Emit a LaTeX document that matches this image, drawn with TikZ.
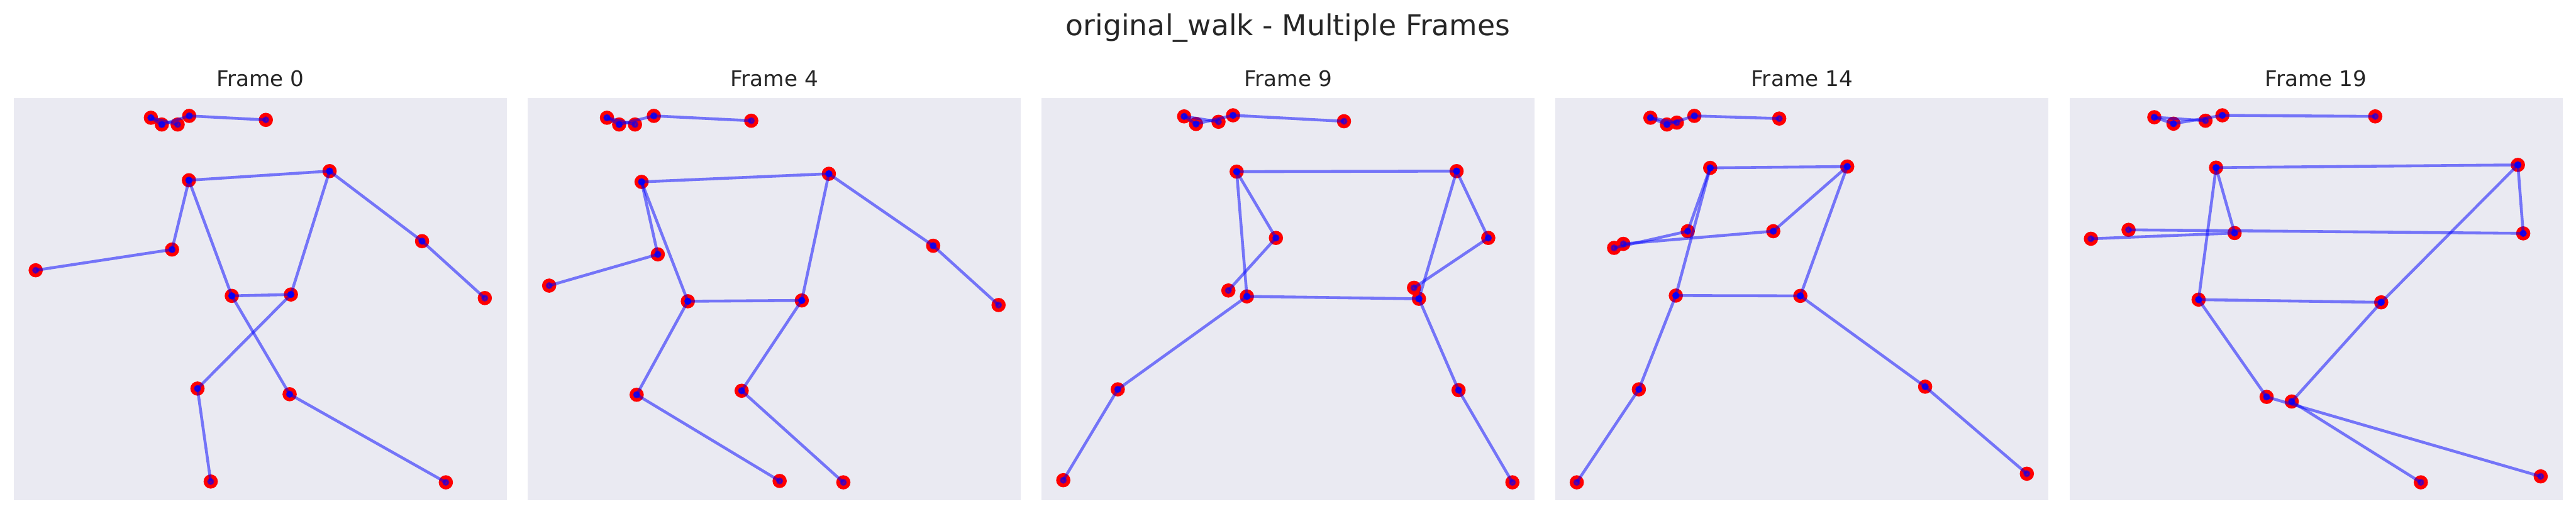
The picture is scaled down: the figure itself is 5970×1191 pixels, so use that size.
\documentclass[tikz,border=0pt]{standalone}
\usepackage{fontspec}
\setmainfont{DejaVu Sans}
\usepackage{xcolor}
\usepackage{tikz}
\definecolor{panelgray}{HTML}{EAEAF2}
\definecolor{titlegray}{HTML}{262626}
\tikzset{
  panel-box/.style={fill=panelgray, draw=none},
  joint-dot/.style={fill=red, draw=none},
  bone-line/.style={draw=blue, line width=1.6pt, opacity=0.5},
  bone-end/.style={draw=blue, fill=blue, line width=1pt, opacity=0.5},
  frame-title/.style={font=\fontsize{12}{14}\selectfont, text=titlegray, anchor=base, inner sep=0pt},
  main-title/.style={font=\fontsize{16}{19}\selectfont, text=titlegray, anchor=base, inner sep=0pt}
}

\begin{document}
\begin{tikzpicture}[x=0.24pt, y=-0.24pt]
\useasboundingbox (0,0) rectangle (5970,1191);
\node[main-title] (maintitle) at (2985,82) {original\_walk - Multiple Frames};
\foreach \f/\t in {0/0,1/4,2/9,3/14,4/19} {
  \fill[panel-box] (32+\f*1191,228) rectangle ++(1142.7,932);
  \node[frame-title] (title\f) at (603.35+\f*1191,201) {Frame \t};
}
\path (411.7,288.8) coordinate (0-eara) (349.7,273.1) coordinate (0-eyea)
  (375.0,288.8) coordinate (0-nose) (438.5,268.8) coordinate (0-eyeb) (616.1,278.1) coordinate (0-earb)
  (437.8,418.1) coordinate (0-sha) (763.8,396.9) coordinate (0-shb)
  (398.7,578.8) coordinate (0-elba) (82.7,626.9) coordinate (0-wra)
  (978.1,559.4) coordinate (0-elbb) (1123.5,691.3) coordinate (0-wrb)
  (537.2,686.3) coordinate (0-hipa) (674.2,683.1) coordinate (0-hipb)
  (671.2,914.4) coordinate (0-kna) (1033.2,1118.8) coordinate (0-ana)
  (457.7,901.3) coordinate (0-knb) (488.3,1116.9) coordinate (0-anb);
\path (1471.6,288.8) coordinate (1-eara) (1406.6,273.1) coordinate (1-eyea)
  (1434.9,288.8) coordinate (1-nose) (1515.3,268.8) coordinate (1-eyeb) (1741.0,280.0) coordinate (1-earb)
  (1486.9,421.9) coordinate (1-sha) (1920.9,403.1) coordinate (1-shb)
  (1524.4,590.0) coordinate (1-elba) (1272.7,662.5) coordinate (1-wra)
  (2162.7,570.0) coordinate (1-elbb) (2314.2,707.5) coordinate (1-wrb)
  (1594.1,698.8) coordinate (1-hipa) (1858.1,696.9) coordinate (1-hipb)
  (1475.5,915.6) coordinate (1-kna) (1806.8,1115.6) coordinate (1-ana)
  (1718.8,906.3) coordinate (1-knb) (1954.5,1118.8) coordinate (1-anb);
\path (2823.9,282.5) coordinate (2-eara) (2744.3,270.0) coordinate (2-eyea)
  (2771.8,287.5) coordinate (2-nose) (2857.6,267.5) coordinate (2-eyeb) (3114.7,281.3) coordinate (2-earb)
  (2866.0,398.1) coordinate (2-sha) (3375.7,396.9) coordinate (2-shb)
  (2957.0,551.9) coordinate (2-elba) (2846.8,673.8) coordinate (2-wra)
  (3449.1,551.9) coordinate (2-elbb) (3277.0,667.5) coordinate (2-wrb)
  (2889.7,687.5) coordinate (2-hipa) (3288.4,693.1) coordinate (2-hipb)
  (2590.5,903.1) coordinate (2-kna) (2464.2,1113.8) coordinate (2-ana)
  (3380.3,905.0) coordinate (2-knb) (3505.0,1118.8) coordinate (2-anb);
\path (3886.1,284.4) coordinate (3-eara) (3824.9,273.1) coordinate (3-eyea)
  (3863.2,288.8) coordinate (3-nose) (3926.7,268.8) coordinate (3-eyeb) (4123.4,275.0) coordinate (3-earb)
  (3963.4,389.4) coordinate (3-sha) (4281.0,386.3) coordinate (3-shb)
  (3911.4,536.3) coordinate (3-elba) (3740.7,575.0) coordinate (3-wra)
  (4109.6,536.3) coordinate (3-elbb) (3762.1,565.6) coordinate (3-wrb)
  (3883.8,685.6) coordinate (3-hipa) (4172.3,686.3) coordinate (3-hipb)
  (3798.1,903.1) coordinate (3-kna) (3654.2,1118.8) coordinate (3-ana)
  (4461.6,896.9) coordinate (3-knb) (4697.3,1098.8) coordinate (3-anb);
\path (5111.3,280.0) coordinate (4-eara) (4992.7,271.9) coordinate (4-eyea)
  (5037.1,286.9) coordinate (4-nose) (5150.4,267.5) coordinate (4-eyeb) (5504.7,270.0) coordinate (4-earb)
  (5135.8,388.8) coordinate (4-sha) (5835.3,382.5) coordinate (4-shb)
  (5178.7,540.6) coordinate (4-elba) (4845.8,553.8) coordinate (4-wra)
  (5847.6,541.3) coordinate (4-elbb) (4933.0,533.1) coordinate (4-wrb)
  (5095.3,695.0) coordinate (4-hipa) (5518.5,701.3) coordinate (4-hipb)
  (5252.9,920.6) coordinate (4-kna) (5888.1,1105.0) coordinate (4-ana)
  (5311.1,931.3) coordinate (4-knb) (5610.3,1118.8) coordinate (4-anb);
\foreach \f in {0,...,4} {
  \foreach \j in {eara,eyea,nose,eyeb,earb,sha,shb,elba,wra,elbb,wrb,hipa,hipb,kna,ana,knb,anb}
    \fill[joint-dot] (\f-\j) circle (3.96pt);
  \foreach \a/\b in {eara/eyea,eyea/nose,nose/eyeb,eyeb/earb,sha/shb,sha/elba,elba/wra,shb/elbb,elbb/wrb,
      sha/hipa,shb/hipb,hipa/hipb,hipa/kna,kna/ana,hipb/knb,knb/anb} {
    \draw[bone-line] (\f-\a) -- (\f-\b);
    \path[bone-end] (\f-\a) circle (1.45pt) (\f-\b) circle (1.45pt);
  }
}
\end{tikzpicture}
\end{document}
